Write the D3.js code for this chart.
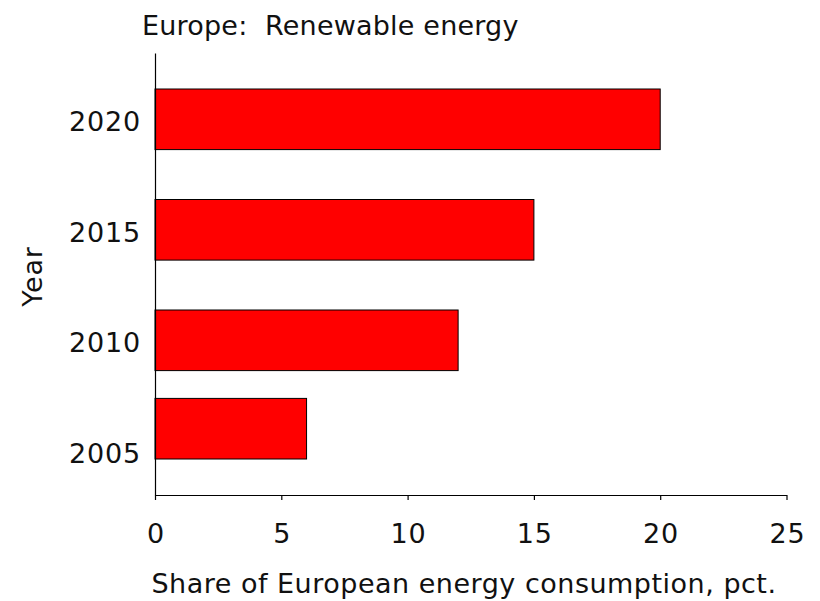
<!DOCTYPE html>
<html>
<head>
<meta charset="utf-8">
<script src="https://cdn.jsdelivr.net/npm/d3@7"></script>
<style>
  html, body { margin: 0; padding: 0; background: #ffffff; }
  svg { display: block; }
  text { font-family: "DejaVu Sans", Verdana, sans-serif; fill: #111; }
</style>
</head>
<body>
<svg id="chart" width="820" height="601"></svg>
<script>
// Renewable energy share of European energy consumption
const years = [2006, 2010, 2015, 2020];
const shares = [6, 12, 15, 20];
const yearTicks = [2005, 2010, 2015, 2020];
const shareTicks = [0, 5, 10, 15, 20, 25];

const titleText = "Europe:  Renewable energy";
const xTitle = "Share of European energy consumption, pct.";
const yTitle = "Year";

const svg = d3.select("#chart");

const x = d3.scaleLinear().domain([0, 25]).range([155, 786.5]);
const y = d3.scaleLinear().domain([2003, 2023]).range([495, 53]);
const barH = 60.6;

// bars
svg.append("g")
  .selectAll("rect")
  .data(years.map((yr, i) => ({ yr, v: shares[i] })))
  .join("rect")
  .attr("x", x(0))
  .attr("y", d => y(d.yr) - barH / 2)
  .attr("width", d => x(d.v) - x(0))
  .attr("height", barH)
  .attr("fill", "#ff0000")
  .attr("stroke", "#000")
  .attr("stroke-width", 1);

// x axis
const xAxis = svg.append("g")
  .attr("transform", `translate(0,${y(2003)})`)
  .call(d3.axisBottom(x).tickValues(shareTicks).tickSize(5).tickSizeOuter(0).tickPadding(0));
xAxis.select(".domain").attr("stroke", "#000").attr("stroke-width", 1.2);
xAxis.selectAll(".tick line").attr("stroke", "#000").attr("stroke-width", 1.2);
xAxis.selectAll(".tick text")
  .attr("y", 48)
  .attr("dy", 0)
  .attr("dx", 0.4)
  .style("font-size", "27px")
  .style("letter-spacing", "0.8px")
  .style("font-family", "'DejaVu Sans', Verdana, sans-serif")
  .attr("fill", "#111");

// y axis
const yAxis = svg.append("g")
  .attr("transform", `translate(${x(0)},0)`)
  .call(d3.axisLeft(y).tickValues(yearTicks).tickFormat(d3.format("d")).tickSize(0).tickSizeOuter(0).tickPadding(14));
yAxis.select(".domain").attr("stroke", "#000").attr("stroke-width", 1.2);
yAxis.selectAll(".tick text")
  .attr("dy", "0.35em")
  .attr("y", 2)
  .style("font-size", "27px")
  .style("letter-spacing", "0.8px")
  .style("font-family", "'DejaVu Sans', Verdana, sans-serif")
  .attr("fill", "#111");

// titles
svg.append("text")
  .attr("x", 142)
  .attr("y", 35)
  .style("font-size", "27px")
  .style("letter-spacing", "0.2px")
  .style("white-space", "pre")
  .text(titleText);

svg.append("text")
  .attr("x", 464)
  .attr("y", 593)
  .attr("text-anchor", "middle")
  .style("font-size", "27px")
  .style("letter-spacing", "0.5px")
  .text(xTitle);

svg.append("text")
  .attr("transform", "translate(42,276.5) rotate(-90)")
  .attr("text-anchor", "middle")
  .style("font-size", "27px")
  .style("letter-spacing", "0.8px")
  .text(yTitle);
</script>
</body>
</html>
